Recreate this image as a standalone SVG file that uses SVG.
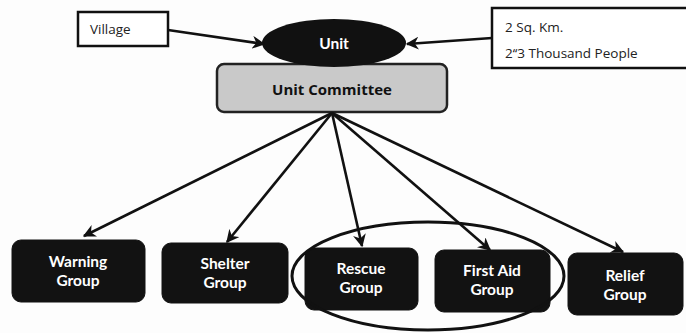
<svg xmlns="http://www.w3.org/2000/svg" width="686" height="333" viewBox="0 0 686 333">
<defs>
<marker id="ah" viewBox="0 0 10 10" refX="9" refY="5" markerWidth="5" markerHeight="5" orient="auto" markerUnits="strokeWidth">
<path d="M0,0 L10,5 L0,10 L3,5 Z" fill="#111"/>
</marker>
<style>
.box{fill:#fff;stroke:#111;stroke-width:2.5}
.grp{fill:#121212;stroke:#121212;stroke-width:1}
.gt{font-family:Lato,"Open Sans","DejaVu Sans",sans-serif;font-weight:bold;font-size:15.5px;fill:#fff;text-anchor:middle}
.lt{font-family:"Open Sans","DejaVu Sans",sans-serif;font-size:13.5px;fill:#222}
.con{stroke:#111;stroke-width:2.6;fill:none;marker-end:url(#ah)}
</style>
</defs>
<rect width="686" height="333" fill="#fdfdfd"/>
<g id="village">
<rect class="box" x="78" y="12" width="90" height="34"/>
<text class="lt" x="90" y="34">Village</text>
</g>
<g id="area">
<rect class="box" x="492" y="8" width="196" height="60"/>
<text class="lt" x="505" y="32">2 Sq. Km.</text>
<text class="lt" x="505" y="58">2‘‘3 Thousand People</text>
</g>
<g id="unit-committee">
<rect x="217" y="64" width="230" height="48" rx="7" fill="#c9c9c9" stroke="#222" stroke-width="2.5"/>
<text x="332" y="95" font-family="'Open Sans','DejaVu Sans',sans-serif" font-weight="bold" font-size="15" fill="#111" text-anchor="middle">Unit Committee</text>
</g>
<g id="unit">
<ellipse cx="334" cy="43" rx="72" ry="24" fill="#111"/>
<text class="gt" x="334" y="49" font-size="16">Unit</text>
</g>
<g id="connectors">
<line class="con" x1="168" y1="30" x2="264" y2="44"/>
<line class="con" x1="492" y1="38" x2="407" y2="44"/>
<line class="con" x1="332" y1="113" x2="84" y2="236"/>
<line class="con" x1="332" y1="113" x2="227" y2="242"/>
<line class="con" x1="332" y1="113" x2="362" y2="246"/>
<line class="con" x1="332" y1="113" x2="490" y2="250"/>
<line class="con" x1="332" y1="113" x2="623" y2="252"/>
</g>
<g id="warning">
<rect class="grp" x="12" y="240" width="133" height="62" rx="9"/>
<text class="gt" x="78" y="267">Warning</text>
<text class="gt" x="78" y="286">Group</text>
</g>
<g id="shelter">
<rect class="grp" x="162" y="243" width="126" height="60" rx="9"/>
<text class="gt" x="225" y="269">Shelter</text>
<text class="gt" x="225" y="288">Group</text>
</g>
<g id="rescue">
<rect class="grp" x="305" y="248" width="113" height="62" rx="9"/>
<text class="gt" x="361" y="274">Rescue</text>
<text class="gt" x="361" y="293">Group</text>
</g>
<g id="firstaid">
<rect class="grp" x="435" y="250" width="115" height="62" rx="9"/>
<text class="gt" x="492" y="276">First Aid</text>
<text class="gt" x="492" y="295">Group</text>
</g>
<g id="relief">
<rect class="grp" x="568" y="253" width="115" height="62" rx="9"/>
<text class="gt" x="625" y="281">Relief</text>
<text class="gt" x="625" y="300">Group</text>
</g>
<g id="highlight">
<ellipse cx="428" cy="276" rx="136" ry="54" fill="none" stroke="#111" stroke-width="3"/>
</g>
</svg>
